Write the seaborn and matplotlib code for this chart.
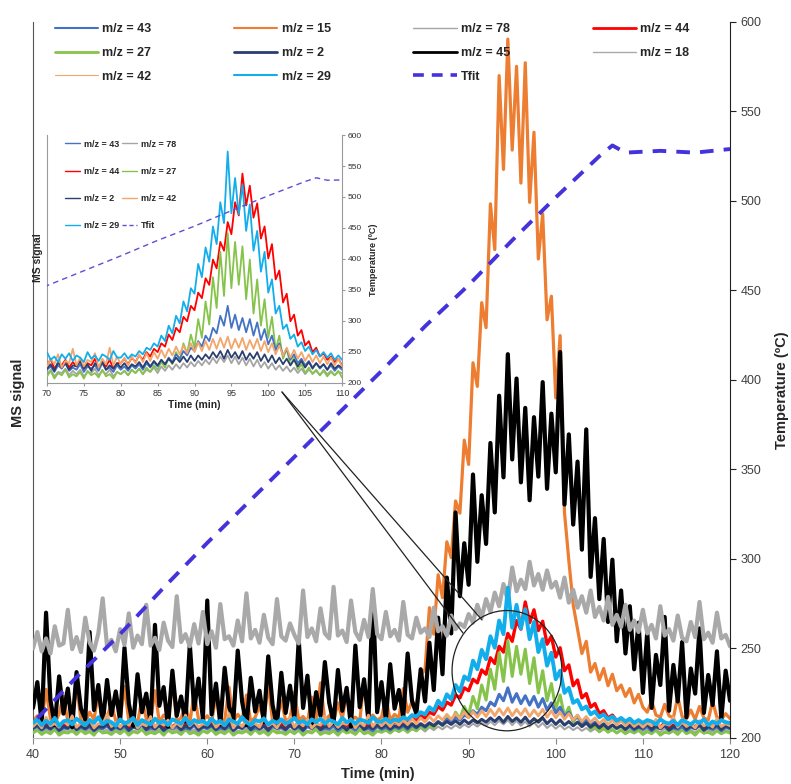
import numpy as np
import matplotlib
matplotlib.use("Agg")
import matplotlib.pyplot as plt
from matplotlib.lines import Line2D
from matplotlib.patches import Ellipse
import seaborn as sns

# one MS reading every 0.5 min, 40 -> 120 min (161 points)
time = np.arange(40, 120.01, 0.5)

# MS signal, arbitrary units (0 = bottom of plot, 100 = top)
mz43 = [1.3, 1.6, 1.1, 1.5, 1.2, 1.7, 1.0, 1.4, 1.3, 1.8, 1.1, 1.5, 1.2, 1.6, 1.0, 1.4, 1.3, 1.7, 1.1, 1.5,
        1.2, 1.6, 1.0, 1.5, 1.3, 1.8, 1.1, 1.4, 1.2, 1.7, 1.0, 1.5, 1.3, 1.6, 1.1, 1.4, 1.2, 1.8, 1.0, 1.5,
        1.3, 1.7, 1.1, 1.4, 1.2, 1.6, 1.0, 1.5, 1.3, 1.8, 1.1, 1.4, 1.2, 1.7, 1.0, 1.6, 1.3, 1.5, 1.1, 1.7,
        1.2, 1.5, 1.0, 1.6, 1.3, 1.8, 1.1, 1.4, 1.2, 1.7, 1.0, 1.5, 1.3, 1.6, 1.1, 1.8, 1.2, 1.4, 1.0, 1.6,
        1.2, 1.5, 1.1, 1.6, 1.3, 1.7, 1.2, 1.8, 1.4, 1.9, 1.5, 2.1, 1.7, 2.3, 1.9, 2.6, 2.2, 2.9, 2.5, 3.2,
        2.9, 3.8, 3.3, 4.3, 3.8, 5.0, 4.5, 6.1, 5.2, 7.0, 5.0, 6.2, 4.8, 5.9, 4.6, 5.8, 4.3, 5.5, 3.9, 4.9,
        3.5, 4.3, 3.0, 3.6, 2.5, 3.1, 2.1, 2.6, 1.8, 2.2, 1.6, 2.0, 1.4, 1.8, 1.3, 1.7, 1.2, 1.6, 1.1, 1.5,
        1.2, 1.6, 1.0, 1.5, 1.3, 1.7, 1.1, 1.4, 1.2, 1.6, 1.0, 1.5, 1.3, 1.7, 1.1, 1.4, 1.2, 1.6, 1.0, 1.5,
        1.3]
mz15 = [2.4, 3.1, 2.2, 6.8, 2.7, 2.0, 3.4, 5.9, 2.3, 2.8, 7.4, 2.5, 2.1, 3.6, 2.6, 6.1, 2.2, 2.9, 4.8, 2.4,
        2.6, 7.2, 2.3, 3.0, 2.1, 5.4, 2.7, 2.4, 6.6, 2.2, 3.2, 2.5, 7.9, 2.3, 2.8, 4.6, 2.1, 6.3, 2.6, 2.4,
        3.1, 2.2, 5.8, 2.7, 2.4, 7.1, 2.3, 3.3, 2.5, 6.0, 2.2, 2.9, 4.4, 2.6, 7.5, 2.3, 2.8, 5.2, 2.4, 2.7,
        6.4, 2.5, 3.0, 2.2, 5.7, 2.6, 7.7, 2.4, 3.1, 2.3, 4.9, 2.7, 6.2, 2.5, 2.9, 2.3, 8.1, 2.6, 3.2, 2.5,
        2.9, 5.6, 2.5, 3.3, 2.8, 6.9, 3.6, 5.1, 4.4, 8.7, 9.6, 18.2, 14.5, 22.8, 19.6, 27.4, 25.2, 33.1, 31.4, 41.6,
        38.2, 52.4, 49.1, 60.8, 57.3, 74.6, 68.2, 92.5, 79.4, 97.6, 82.1, 93.8, 77.5, 94.3, 74.8, 84.6, 66.9, 73.2, 58.4, 61.7,
        47.5, 56.2, 31.5, 24.8, 18.6, 15.2, 11.8, 13.5, 9.2, 10.4, 8.1, 9.7, 7.3, 8.9, 6.6, 7.4, 5.8, 6.9, 4.9, 6.1,
        4.3, 3.6, 5.2, 3.2, 2.9, 4.7, 3.1, 2.8, 5.8, 3.0, 2.7, 3.9, 2.6, 4.4, 2.8, 2.5, 5.1, 2.9, 2.6, 3.4,
        2.7]
mz78 = [0.9, 1.2, 0.7, 1.1, 0.8, 1.3, 0.6, 1.0, 0.9, 1.2, 0.7, 1.1, 0.8, 1.3, 0.6, 1.0, 0.9, 1.2, 0.7, 1.1,
        0.8, 1.2, 0.6, 1.0, 0.9, 1.3, 0.7, 1.1, 0.8, 1.2, 0.6, 1.0, 0.9, 1.3, 0.7, 1.1, 0.8, 1.2, 0.6, 1.0,
        0.9, 1.3, 0.7, 1.1, 0.8, 1.2, 0.6, 1.0, 0.9, 1.3, 0.7, 1.1, 0.8, 1.2, 0.6, 1.0, 0.9, 1.3, 0.7, 1.1,
        0.8, 1.2, 0.6, 1.0, 0.9, 1.3, 0.7, 1.1, 0.8, 1.2, 0.6, 1.0, 0.9, 1.3, 0.7, 1.1, 0.8, 1.2, 0.6, 1.0,
        0.8, 1.1, 0.7, 1.2, 0.9, 1.3, 0.8, 1.2, 1.0, 1.4, 0.9, 1.5, 1.1, 1.6, 1.2, 1.7, 1.3, 1.8, 1.4, 1.9,
        1.5, 2.0, 1.6, 2.1, 1.7, 2.3, 1.8, 2.4, 1.9, 2.5, 1.8, 2.4, 1.7, 2.3, 1.6, 2.2, 1.5, 2.1, 1.4, 1.9,
        1.3, 1.8, 1.2, 1.6, 1.1, 1.5, 1.0, 1.4, 0.9, 1.3, 0.8, 1.2, 0.9, 1.1, 0.7, 1.2, 0.8, 1.1, 0.7, 1.0,
        0.9, 1.2, 0.7, 1.1, 0.8, 1.3, 0.6, 1.0, 0.9, 1.2, 0.7, 1.1, 0.8, 1.2, 0.6, 1.0, 0.9, 1.3, 0.7, 1.1,
        0.9]
mz44 = [1.6, 2.0, 1.4, 1.9, 1.5, 2.1, 1.3, 1.8, 1.6, 2.2, 1.4, 1.9, 1.5, 2.0, 1.3, 1.8, 1.6, 2.1, 1.4, 1.9,
        1.5, 2.0, 1.3, 1.8, 1.6, 2.2, 1.4, 1.9, 1.5, 2.1, 1.3, 1.8, 1.6, 2.0, 1.4, 1.9, 1.5, 2.2, 1.3, 1.8,
        1.6, 2.1, 1.4, 1.9, 1.5, 2.0, 1.3, 1.8, 1.6, 2.2, 1.4, 1.9, 1.5, 2.1, 1.3, 1.8, 1.6, 2.0, 1.4, 1.9,
        1.5, 2.2, 1.3, 1.8, 1.6, 2.1, 1.4, 1.9, 1.5, 2.0, 1.3, 1.8, 1.6, 2.2, 1.4, 1.9, 1.5, 2.1, 1.3, 1.8,
        1.8, 2.2, 1.7, 2.3, 1.9, 2.5, 2.1, 2.8, 2.4, 3.1, 2.8, 3.6, 3.3, 4.4, 3.9, 5.0, 4.6, 6.0, 5.6, 7.0,
        6.6, 8.2, 7.7, 9.5, 8.9, 11.2, 10.4, 12.8, 12.0, 14.6, 13.5, 16.4, 15.2, 19.0, 16.1, 17.9, 15.0, 16.3, 13.1, 14.2,
        11.3, 12.6, 9.4, 10.2, 7.3, 8.1, 5.6, 6.2, 4.3, 4.8, 3.4, 3.8, 2.8, 3.2, 2.4, 2.7, 2.1, 2.4, 1.9, 2.2,
        1.6, 2.0, 1.4, 1.9, 1.5, 2.1, 1.3, 1.8, 1.6, 2.0, 1.4, 1.9, 1.5, 2.2, 1.3, 1.8, 1.6, 2.1, 1.4, 1.9,
        1.7]
mz27 = [0.7, 1.1, 0.5, 0.9, 0.6, 1.2, 0.4, 0.8, 0.7, 1.0, 0.5, 1.1, 0.6, 0.9, 0.4, 1.2, 0.7, 0.8, 0.5, 1.0,
        0.6, 1.1, 0.4, 0.9, 0.7, 1.2, 0.5, 0.8, 0.6, 1.0, 0.4, 1.1, 0.7, 0.9, 0.5, 1.2, 0.6, 0.8, 0.4, 1.0,
        0.7, 1.2, 0.5, 0.9, 0.6, 1.1, 0.4, 0.8, 0.7, 1.0, 0.5, 1.2, 0.6, 0.9, 0.4, 1.1, 0.7, 0.8, 0.5, 1.0,
        0.6, 1.1, 0.4, 0.9, 0.7, 1.2, 0.5, 0.8, 0.6, 1.0, 0.4, 1.1, 0.7, 0.9, 0.5, 1.2, 0.6, 0.8, 0.4, 1.0,
        0.8, 1.1, 0.7, 1.2, 0.9, 1.3, 0.8, 1.4, 1.0, 1.6, 1.2, 1.9, 1.4, 2.3, 1.7, 2.8, 2.1, 3.6, 2.7, 4.4,
        3.2, 5.8, 4.1, 7.4, 5.3, 9.6, 6.8, 11.9, 7.9, 13.6, 8.6, 12.8, 8.9, 12.4, 7.6, 11.2, 6.3, 9.4, 5.2, 7.6,
        4.1, 6.0, 3.0, 4.3, 2.2, 3.1, 1.6, 2.3, 1.2, 1.7, 0.9, 1.4, 0.8, 1.2, 0.7, 1.1, 0.6, 1.0, 0.7, 1.1,
        0.5, 0.9, 0.6, 1.1, 0.4, 0.8, 0.7, 1.0, 0.5, 1.2, 0.6, 0.9, 0.4, 1.1, 0.7, 0.8, 0.5, 1.0, 0.6, 0.9,
        0.7]
mz2 = [1.4, 1.8, 1.2, 1.7, 1.3, 1.9, 1.1, 1.6, 1.4, 2.0, 1.2, 1.7, 1.3, 1.8, 1.1, 1.6, 1.5, 1.9, 1.2, 1.7,
       1.3, 1.9, 1.1, 1.6, 1.4, 2.0, 1.2, 1.7, 1.3, 1.8, 1.1, 1.6, 1.5, 1.9, 1.2, 1.7, 1.4, 2.0, 1.2, 1.6,
       1.5, 1.8, 1.2, 1.7, 1.3, 2.0, 1.1, 1.6, 1.4, 1.9, 1.2, 1.8, 1.3, 1.7, 1.1, 1.9, 1.4, 1.6, 1.2, 1.8,
       1.3, 1.7, 1.1, 1.9, 1.4, 1.8, 1.2, 1.6, 1.5, 2.0, 1.3, 1.7, 1.1, 1.8, 1.4, 1.9, 1.2, 1.6, 1.3, 1.8,
       1.4, 1.8, 1.3, 1.7, 1.5, 1.9, 1.4, 2.0, 1.5, 2.0, 1.6, 2.1, 1.7, 2.2, 1.8, 2.3, 1.9, 2.4, 1.9, 2.5,
       2.0, 2.5, 2.1, 2.6, 2.2, 2.8, 2.3, 2.9, 2.2, 3.0, 2.3, 2.8, 2.2, 2.9, 2.1, 2.7, 2.2, 2.8, 2.0, 2.6,
       1.9, 2.5, 1.8, 2.3, 1.7, 2.2, 1.6, 2.1, 1.5, 2.0, 1.4, 1.9, 1.3, 1.8, 1.4, 1.7, 1.2, 1.8, 1.3, 1.6,
       1.4, 1.9, 1.2, 1.7, 1.3, 1.8, 1.1, 1.6, 1.4, 2.0, 1.2, 1.7, 1.3, 1.9, 1.1, 1.6, 1.4, 1.8, 1.2, 1.7,
       1.4]
mz45 = [4.2, 7.8, 2.1, 17.5, 5.3, 1.8, 8.6, 3.4, 6.9, 1.5, 9.2, 4.1, 2.6, 14.8, 3.9, 7.4, 1.9, 8.1, 3.2, 6.5,
        2.4, 12.6, 4.8, 1.7, 8.9, 3.6, 6.2, 2.0, 15.8, 4.5, 7.1, 1.6, 9.4, 3.1, 5.8, 2.3, 13.1, 4.0, 8.3, 2.7,
        19.2, 3.3, 7.6, 1.9, 9.8, 4.4, 2.5, 12.2, 5.1, 1.8, 8.4, 3.7, 6.6, 2.2, 11.4, 4.6, 1.7, 9.1, 3.5, 7.3,
        2.8, 13.7, 4.2, 8.7, 1.9, 6.4, 3.1, 10.6, 4.9, 2.1, 9.5, 3.8, 7.0, 1.6, 12.9, 4.3, 8.2, 2.4, 20.1, 3.6,
        7.8, 2.5, 10.3, 4.1, 6.7, 2.9, 11.8, 5.2, 3.4, 9.6, 5.1, 13.3, 6.7, 16.8, 8.9, 22.4, 14.6, 31.5, 19.8, 27.2,
        21.4, 36.8, 24.6, 33.9, 27.1, 41.2, 31.5, 47.8, 36.4, 53.6, 38.9, 50.2, 35.7, 46.1, 33.2, 44.8, 36.5, 49.7, 34.8, 45.3,
        37.1, 53.9, 32.6, 42.4, 29.8, 38.6, 26.3, 43.1, 22.5, 30.7, 19.4, 27.8, 16.2, 24.9, 13.5, 20.6, 11.8, 18.4, 9.6, 16.1,
        6.3, 14.8, 4.2, 11.6, 7.4, 16.9, 3.8, 10.2, 5.1, 13.4, 2.9, 9.7, 6.2, 15.3, 3.5, 8.8, 4.6, 12.1, 2.7, 9.4,
        5.2]
mz18 = [12.5, 14.8, 12.1, 13.9, 11.8, 15.6, 12.9, 13.2, 17.9, 12.4, 14.1, 12.0, 16.8, 13.3, 12.2, 14.6, 19.5, 12.8, 13.7, 12.1,
        15.2, 13.0, 17.4, 12.6, 14.3, 13.1, 18.6, 12.9, 14.0, 12.3, 16.1, 13.6, 12.7, 19.8, 13.4, 14.5, 12.8, 15.9, 13.2, 17.6,
        13.1, 14.9, 12.6, 18.7, 13.8, 14.2, 12.9, 16.4, 13.5, 20.2, 13.9, 15.1, 13.3, 17.2, 14.0, 13.1, 19.4, 14.2, 13.6, 16.0,
        14.4, 13.2, 20.6, 14.1, 15.3, 13.5, 18.1, 14.6, 13.9, 21.1, 14.3, 15.0, 13.4, 19.2, 14.8, 13.7, 16.5, 14.1, 20.8, 14.5,
        13.8, 17.6, 14.2, 15.1, 13.6, 19.0, 14.4, 13.9, 16.8, 14.7, 15.3, 14.1, 18.2, 14.9, 15.6, 14.3, 17.1, 15.2, 16.0, 15.5,
        17.3, 16.1, 18.6, 16.8, 19.4, 17.6, 20.3, 18.4, 21.5, 19.2, 23.8, 20.5, 22.1, 20.8, 24.6, 21.3, 22.9, 20.7, 23.4, 21.0,
        21.8, 19.6, 22.4, 18.9, 20.7, 18.2, 19.8, 17.5, 20.6, 16.9, 18.3, 16.4, 19.7, 15.8, 17.2, 15.5, 18.6, 15.1, 16.4, 14.8,
        17.9, 14.6, 15.8, 13.9, 18.4, 14.3, 15.2, 13.6, 17.1, 14.0, 13.5, 16.2, 14.1, 19.0, 13.8, 14.7, 13.3, 17.5, 13.9, 14.4,
        12.8]
mz42 = [1.6, 2.2, 1.4, 2.9, 1.7, 2.0, 1.5, 2.4, 1.8, 3.1, 1.5, 2.1, 1.7, 2.6, 1.4, 2.0, 1.9, 3.3, 1.6, 2.2,
        1.5, 2.3, 1.8, 2.7, 1.4, 2.0, 1.7, 3.0, 1.5, 2.2, 1.8, 2.5, 1.4, 2.1, 1.6, 3.2, 1.7, 2.3, 1.5, 2.0,
        1.8, 2.6, 1.5, 2.1, 1.7, 3.4, 1.4, 2.2, 1.6, 2.4, 1.9, 2.0, 1.5, 2.8, 1.7, 2.1, 1.4, 2.5, 1.8, 3.0,
        1.5, 2.2, 1.7, 2.6, 1.4, 2.0, 1.8, 3.1, 1.6, 2.3, 1.5, 2.1, 1.9, 2.7, 1.4, 2.2, 1.7, 3.2, 1.6, 2.4,
        1.7, 2.3, 1.6, 2.4, 1.8, 2.6, 1.9, 2.7, 2.0, 2.8, 2.2, 3.0, 2.3, 3.1, 2.5, 3.3, 2.6, 3.4, 2.7, 3.6,
        2.8, 3.7, 2.9, 3.8, 3.0, 4.0, 3.1, 4.1, 3.2, 4.2, 3.1, 4.0, 3.2, 4.1, 3.0, 3.9, 3.1, 4.0, 2.9, 3.8,
        2.8, 3.6, 2.6, 3.4, 2.5, 3.2, 2.3, 3.0, 2.2, 2.8, 2.0, 2.6, 1.9, 2.5, 1.8, 2.4, 1.7, 2.3, 1.6, 2.2,
        1.5, 2.1, 1.7, 2.6, 1.4, 2.0, 1.8, 2.9, 1.5, 2.2, 1.6, 2.0, 1.4, 2.4, 1.7, 2.1, 1.5, 2.7, 1.6, 2.0,
        1.7]
mz29 = [2.1, 2.6, 1.8, 2.4, 2.0, 2.8, 1.7, 2.3, 2.5, 1.9, 2.7, 2.2, 1.8, 2.5, 2.1, 2.9, 1.9, 2.4, 2.2, 1.7,
        2.6, 2.0, 2.3, 2.8, 1.8, 2.5, 2.2, 1.9, 2.7, 2.1, 2.4, 1.8, 2.6, 2.3, 2.0, 2.8, 1.9, 2.5, 2.2, 2.4,
        1.9, 2.7, 2.1, 2.4, 1.8, 2.6, 2.3, 2.0, 2.9, 2.2, 1.8, 2.5, 2.3, 2.7, 1.9, 2.4, 2.1, 2.6, 2.0, 2.3,
        2.8, 2.1, 2.4, 1.9, 2.6, 2.2, 2.7, 2.0, 2.5, 2.3, 1.9, 2.8, 2.2, 2.5, 2.0, 2.6, 2.4, 2.1, 2.9, 2.3,
        2.3, 2.7, 2.2, 2.6, 2.4, 2.9, 2.6, 3.2, 3.0, 3.6, 3.3, 4.3, 3.8, 5.2, 4.5, 6.1, 5.4, 7.4, 6.5, 8.6,
        8.1, 10.8, 9.6, 12.3, 11.0, 14.2, 12.6, 16.4, 14.5, 21.0, 15.4, 18.6, 15.3, 18.0, 13.8, 16.2, 12.0, 13.8, 10.1, 11.9,
        8.2, 9.4, 6.3, 7.0, 4.9, 5.3, 4.0, 4.4, 3.3, 3.7, 2.9, 3.3, 2.6, 3.0, 2.4, 2.8, 2.3, 2.7, 2.1, 2.5,
        2.1, 2.5, 2.3, 1.9, 2.6, 2.2, 2.0, 2.4, 1.8, 2.5, 2.2, 1.9, 2.4, 2.1, 2.6, 1.8, 2.3, 2.0, 2.5, 2.2,
        2.1]

# fitted temperature (ºC)
tfit_time = [40.5, 45, 50, 55, 60, 65, 70, 75, 80, 85, 90, 95, 100, 105, 106.5, 108, 112, 116, 120]
tfit_temp = [211, 234, 258, 284, 309, 333, 357, 381, 405, 430, 453, 478, 502, 525, 531, 527, 528, 527, 529]

C43, C15, C78, C44 = "#4472C4", "#ED7D31", "#A5A5A5", "#FF0000"
C27, C2, C45, C18 = "#86C34A", "#2A3F6E", "#000000", "#A9A9A9"
C42, C29, CT = "#F2A66B", "#12AEEB", "#4433DD"

sns.set_style("ticks")
plt.rcParams['font.family'] = ['Liberation Sans', 'DejaVu Sans']

fig = plt.figure(figsize=(7.91, 7.84), dpi=100)
ax = fig.add_axes([0.0417, 0.0587, 0.8812, 0.9133])

# (label, data, colour, width in plot, width in legend, zorder)
series = [
    ("m/z = 43", mz43, C43, 2.2, 1.5, 4),
    ("m/z = 15", mz15, C15, 2.3, 1.5, 2),
    ("m/z = 78", mz78, C78, 1.5, 1.0, 1),
    ("m/z = 44", mz44, C44, 2.4, 2.0, 3),
    ("m/z = 27", mz27, C27, 2.2, 2.0, 3.5),
    ("m/z = 2", mz2, C2, 2.2, 2.0, 5),
    ("m/z = 45", mz45, C45, 3.0, 2.0, 6),
    ("m/z = 18", mz18, C18, 3.0, 1.0, 7),
    ("m/z = 42", mz42, C42, 2.0, 0.8, 8),
    ("m/z = 29", mz29, C29, 2.8, 1.5, 9),
]
for name, vals, col, lw, _, z in series:
    sns.lineplot(x=time, y=vals, ax=ax, color=col, lw=lw, estimator=None, legend=False, zorder=z)

ax.set_xlim(40, 120)
ax.set_ylim(0, 100)
ax.set_yticks([])
ax.set_xticks(range(40, 121, 10))
ax.set_xlabel("Time (min)", fontsize=10.5, fontweight="bold")
ax.set_ylabel("MS signal", fontsize=10.5, fontweight="bold")
ax.xaxis.set_label_coords(0.495, -0.041)
ax.yaxis.set_label_coords(-0.011, 0.482)
ax.tick_params(axis="x", direction="out", length=4, color="#888888", labelsize=9, labelcolor="#404040", pad=4)
ax.spines["top"].set_visible(False)
ax.spines["right"].set_visible(False)
ax.spines["left"].set_color("#555555")
ax.spines["bottom"].set_color("#BBBBBB")

ax2 = ax.twinx()
sns.lineplot(x=tfit_time, y=tfit_temp, ax=ax2, color=CT, lw=2.8, linestyle=(0, (3.5, 2.6)), estimator=None, legend=False)
ax2.set_ylim(200, 600)
ax2.set_yticks(range(200, 601, 50))
ax2.set_ylabel("Temperature (ºC)", fontsize=10.5, fontweight="bold")
ax2.yaxis.set_label_coords(1.065, 0.486)
ax2.tick_params(axis="y", direction="out", length=4, color="#222222", labelsize=9, labelcolor="#404040")
for s in ["top", "left", "bottom"]:
    ax2.spines[s].set_visible(False)
ax2.spines["right"].set_color("#222222")

# zoom marker
ax.add_patch(Ellipse((94.4, 9.4), 12.6, 16.8, fill=False, ec="#222222", lw=0.9, zorder=20))
fig.add_artist(Line2D([0.3565, 0.5853], [0.500, 0.1926], transform=fig.transFigure, color="#222222", lw=0.9))
fig.add_artist(Line2D([0.3565, 0.6094], [0.500, 0.2092], transform=fig.transFigure, color="#222222", lw=0.9))

# main legend
hd = {name: Line2D([], [], color=col, lw=lwl) for name, _, col, _, lwl, _ in series}
hd["Tfit"] = Line2D([], [], color=CT, lw=2.6, linestyle=(0, (3.0, 2.2)))
order = ["m/z = 43", "m/z = 27", "m/z = 42", "m/z = 15", "m/z = 2", "m/z = 29",
         "m/z = 78", "m/z = 45", "Tfit", "m/z = 44", "m/z = 18"]
fig.legend(handles=[hd[k] for k in order], labels=order, loc="upper left",
           bbox_to_anchor=(50 / 791, 1 - 18 / 784), ncol=4, frameon=False,
           prop={"weight": "bold", "size": 9}, handlelength=3.45, handletextpad=0.35,
           columnspacing=6.6, labelspacing=0.95, borderaxespad=0)

# inset
axin = fig.add_axes([0.0594, 0.5115, 0.3730, 0.3163])
inset_keys = ["m/z = 43", "m/z = 78", "m/z = 44", "m/z = 27", "m/z = 2", "m/z = 42", "m/z = 29"]
for name, vals, col, lw, _, z in series:
    if name in inset_keys:
        sns.lineplot(x=time, y=vals, ax=axin, color=col, lw=1.3, estimator=None, legend=False, zorder=z)
axin.set_xlim(70, 110)
axin.set_ylim(0, 22.5)
axin.set_yticks([])
axin.set_xticks(range(70, 111, 5))
axin.set_xlabel("Time (min)", fontsize=7.5, fontweight="bold")
axin.set_ylabel("MS signal", fontsize=7.5, fontweight="bold")
axin.xaxis.set_label_coords(0.50, -0.068)
axin.yaxis.set_label_coords(-0.015, 0.504)
axin.tick_params(axis="x", direction="out", length=2, color="#999999", labelsize=6.5, labelcolor="#333333", pad=2)
axin.spines["top"].set_visible(False)
axin.spines["right"].set_visible(False)
for s in ["left", "bottom"]:
    axin.spines[s].set_color("#9A9A9A")

axin2 = axin.twinx()
sns.lineplot(x=tfit_time, y=tfit_temp, ax=axin2, color="#5B4FD6", lw=1.0, linestyle=(0, (4, 3)), estimator=None, legend=False)
axin2.set_ylim(200, 600)
axin2.set_yticks(range(200, 601, 50))
axin2.set_ylabel("Temperature (ºC)", fontsize=6.5, fontweight="bold")
axin2.yaxis.set_label_coords(1.09, 0.496)
axin2.tick_params(axis="y", direction="out", length=2, color="#999999", labelsize=6, labelcolor="#333333", pad=2)
for s in ["top", "left", "bottom"]:
    axin2.spines[s].set_visible(False)
axin2.spines["right"].set_color("#9A9A9A")

hi = {name: Line2D([], [], color=col, lw=1.0) for name, _, col, _, _, _ in series}
hi["Tfit"] = Line2D([], [], color="#5B4FD6", lw=1.0, linestyle=(0, (3, 2)))
in_order = ["m/z = 43", "m/z = 44", "m/z = 2", "m/z = 29", "m/z = 78", "m/z = 27", "m/z = 42", "Tfit"]
axin2.legend(handles=[hi[k] for k in in_order], labels=in_order, loc="upper left",
             bbox_to_anchor=(0.049, 0.996), ncol=2, frameon=False,
             prop={"weight": "bold", "size": 6.5}, handlelength=1.65, handletextpad=0.4,
             columnspacing=0.4, labelspacing=2.0, borderaxespad=0)

fig.savefig("out.png", dpi=100)
